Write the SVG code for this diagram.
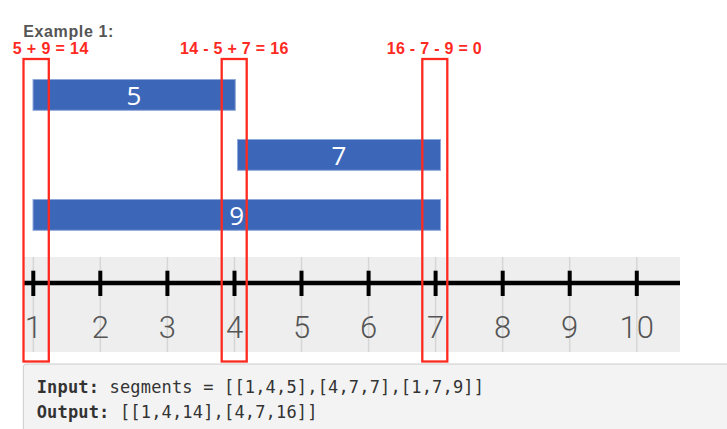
<svg xmlns="http://www.w3.org/2000/svg" width="727" height="429" viewBox="0 0 727 429">
<style>
.title{font-family:"Liberation Sans",Arial,sans-serif;font-weight:bold;font-size:16px;fill:#555}
.calc{font-family:"Liberation Sans",Arial,sans-serif;font-weight:bold;font-size:16px;fill:#ff2a1f}
.bar{fill:#3c66b8;stroke:#8fa8da;stroke-width:1}
.barlbl{font-family:"Open Sans","Noto Sans",sans-serif;font-size:26px;fill:#fff;text-anchor:middle}
.mark{fill:none;stroke:#ff2a1f;stroke-width:2.3}
.grid{stroke:#d6d6d6;stroke-width:1.5}
.tick{stroke:#000;stroke-width:4}
.num{font-family:Roboto,"Noto Sans",sans-serif;font-weight:300;font-size:31px;fill:#555;text-anchor:middle}
.code{font-family:"DejaVu Sans Mono",monospace;font-size:17px;fill:#333;letter-spacing:0.17px}
</style>
<rect width="727" height="429" fill="#fff"/>
<text class="title" x="23.3" y="37.3" textLength="90" lengthAdjust="spacing">Example 1:</text>
<g id="calc-labels">
<text class="calc" x="12.7" y="54" textLength="75.6" lengthAdjust="spacing">5 + 9 = 14</text>
<text class="calc" x="180" y="54" textLength="108.3" lengthAdjust="spacing">14 - 5 + 7 = 16</text>
<text class="calc" x="386.7" y="54" textLength="95" lengthAdjust="spacing">16 - 7 - 9 = 0</text>
</g>
<g id="axis">
<rect x="23" y="257" width="657" height="95" fill="#eeeeee"/>
<g class="grid">
<line x1="33.3" y1="257" x2="33.3" y2="352"/>
<line x1="100.3" y1="257" x2="100.3" y2="352"/>
<line x1="167.4" y1="257" x2="167.4" y2="352"/>
<line x1="234.5" y1="257" x2="234.5" y2="352"/>
<line x1="301.5" y1="257" x2="301.5" y2="352"/>
<line x1="368.6" y1="257" x2="368.6" y2="352"/>
<line x1="435.6" y1="257" x2="435.6" y2="352"/>
<line x1="502.7" y1="257" x2="502.7" y2="352"/>
<line x1="569.7" y1="257" x2="569.7" y2="352"/>
<line x1="636.8" y1="257" x2="636.8" y2="352"/>
</g>
<line x1="23" y1="283" x2="680" y2="283" stroke="#000" stroke-width="4.5"/>
<g class="tick">
<line x1="33.3" y1="270.7" x2="33.3" y2="296"/>
<line x1="100.3" y1="270.7" x2="100.3" y2="296"/>
<line x1="167.4" y1="270.7" x2="167.4" y2="296"/>
<line x1="234.5" y1="270.7" x2="234.5" y2="296"/>
<line x1="301.5" y1="270.7" x2="301.5" y2="296"/>
<line x1="368.6" y1="270.7" x2="368.6" y2="296"/>
<line x1="435.6" y1="270.7" x2="435.6" y2="296"/>
<line x1="502.7" y1="270.7" x2="502.7" y2="296"/>
<line x1="569.7" y1="270.7" x2="569.7" y2="296"/>
<line x1="636.8" y1="270.7" x2="636.8" y2="296"/>
</g>
<text class="num" x="33.3" y="338.3">1</text>
<text class="num" x="100.3" y="338.3">2</text>
<text class="num" x="167.4" y="338.3">3</text>
<text class="num" x="234.5" y="338.3">4</text>
<text class="num" x="301.5" y="338.3">5</text>
<text class="num" x="368.6" y="338.3">6</text>
<text class="num" x="435.6" y="338.3">7</text>
<text class="num" x="502.7" y="338.3">8</text>
<text class="num" x="569.7" y="338.3">9</text>
<text class="num" x="636.8" y="338.3">10</text>
</g>
<g id="seg5">
<rect class="bar" x="33" y="79.5" width="202.3" height="30.8"/>
<text class="barlbl" x="134" y="105">5</text>
</g>
<g id="seg7">
<rect class="bar" x="237.5" y="139.5" width="203" height="30.8"/>
<text class="barlbl" x="339" y="165">7</text>
</g>
<g id="seg9">
<rect class="bar" x="33" y="199.5" width="407.5" height="30.8"/>
<text class="barlbl" x="236.8" y="225">9</text>
</g>
<g id="markers">
<rect class="mark" x="23.5" y="59" width="25.3" height="302.5"/>
<rect class="mark" x="221.7" y="59" width="25" height="302.5"/>
<rect class="mark" x="422.3" y="59" width="25" height="302.5"/>
</g>
<g id="code-box">
<rect x="23.3" y="364" width="720" height="80" rx="3" fill="#f3f3f3" stroke="#cccccc" stroke-width="1"/>
<text class="code" x="36.7" y="392.7"><tspan font-weight="bold">Input:</tspan> segments = [[1,4,5],[4,7,7],[1,7,9]]</text>
<text class="code" x="36.7" y="418.3"><tspan font-weight="bold">Output:</tspan> [[1,4,14],[4,7,16]]</text>
</g>
</svg>
